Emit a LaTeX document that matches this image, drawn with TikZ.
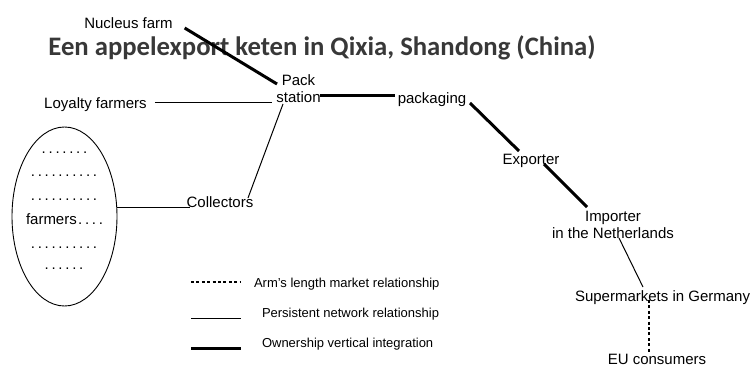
\documentclass[tikz,border=0pt]{standalone}
\usepackage{fontspec}
\setmainfont{Liberation Sans}
\newfontfamily\headfont{Carlito}
\usetikzlibrary{shapes.geometric,calc}
% one dot of a dotted row, on a fixed pitch
\newcommand\fdot{\makebox[6.9pt]{.}}
\newcommand\fdots[1]{\foreach \i in {1,...,#1}{\fdot}}

\begin{document}
\begin{tikzpicture}[x=1pt,y=-1pt,
  lbl/.style={inner sep=0pt, outer sep=0pt, anchor=base, font=\fontsize{15}{17}\selectfont},
  leg/.style={inner sep=0pt, outer sep=0pt, anchor=base west, font=\fontsize{13}{15}\selectfont},
  netline/.style={line width=1pt},
  ownline/.style={line width=3pt},
  armline/.style={line width=1.2pt, dash pattern=on 3pt off 2.4pt},
]
\useasboundingbox (0,0) rectangle (753,367);

% heading
\node[inner sep=0pt, anchor=base, font=\headfont\bfseries\fontsize{26.7}{30}\selectfont, text=black!78]
  (title) at (322,55) {Een appelexport keten in Qixia, Shandong (China)};

% actors
\node[lbl] (nuc)   at (128.5,28) {Nucleus farm};
\node[lbl] (pack)  at (298.5,102) {\begin{tabular}[b]{@{}c@{}}Pack\\station\end{tabular}};
\node[lbl] (loyal) at (95.5,108) {Loyalty farmers};
\node[lbl] (packg) at (432,103) {packaging};
\node[lbl] (exp)   at (531,164) {Exporter};
\node[lbl] (imp)   at (613,238) {\begin{tabular}[b]{@{}c@{}}Importer\\in the Netherlands\end{tabular}};
\node[lbl] (coll)  at (220,207) {Collectors};
\node[lbl, anchor=base west] (super) at (575,301) {Supermarkets in Germany};
\node[lbl] (eu)    at (657,364.5) {EU consumers};

% the many small farmers
\node[draw, ellipse, line width=0.9pt, minimum width=105pt, minimum height=179pt,
  inner sep=0pt, outer sep=0pt] (farm) at (64.5,216.5) {};
\node[lbl] (r1) at (64.5,153) {\fdots{7}};
\node[lbl] (r2) at (64,176) {\fdots{10}};
\node[lbl] (r3) at (64,200) {\fdots{10}};
\node[lbl, anchor=base west] (r4) at (26,224) {farmers\fdots{4}};
\node[lbl] (r5) at (64,248) {\fdots{10}};
\node[lbl] (r6) at (64,269) {\fdots{6}};

% relationships
\draw[ownline] ($(nuc.base east)+(12,0)$) -- ($(pack.base)+(-21.5,-18)$);
\draw[netline] ($(loyal.base east)+(8,-6)$) -- ($(pack.base)+(-26.5,0)$);
\draw[ownline] ($(pack.base)+(21.5,-7)$) -- ($(packg.base west)+(-3,-8)$);
\draw[netline] ($(pack.base)+(-15.5,2)$) -- ($(coll.base)+(28,-9)$);
\draw[netline] ($(farm.east)+(-0.3,-9.5)$) -- ($(coll.base west)+(3,0)$);
\draw[ownline] ($(packg.base east)+(3.8,0)$) -- ($(exp.base)+(-12,-13)$);
\draw[ownline] ($(exp.base)+(13,0)$) -- ($(imp.base)+(-26,-31)$);
\draw[netline] ($(imp.base)+(6,0)$) -- ($(super.base west)+(68,-14)$);
\draw[armline] ($(super.base west)+(74,-1)$) -- ($(eu.base)+(-8,-12)$);

% key
\node[leg] (lg1) at (254,287) {Arm’s length market relationship};
\node[leg] (lg2) at (262,317) {Persistent network relationship};
\node[leg] (lg3) at (262,347) {Ownership vertical integration};
\draw[armline] ($(lg1.base west)+(-63,-5)$) -- ($(lg1.base west)+(-14,-5)$);
\draw[netline] ($(lg2.base west)+(-71,1)$) -- ($(lg2.base west)+(-21,1)$);
\draw[ownline] ($(lg3.base west)+(-71,1)$) -- ($(lg3.base west)+(-21,1)$);
\end{tikzpicture}
\end{document}
